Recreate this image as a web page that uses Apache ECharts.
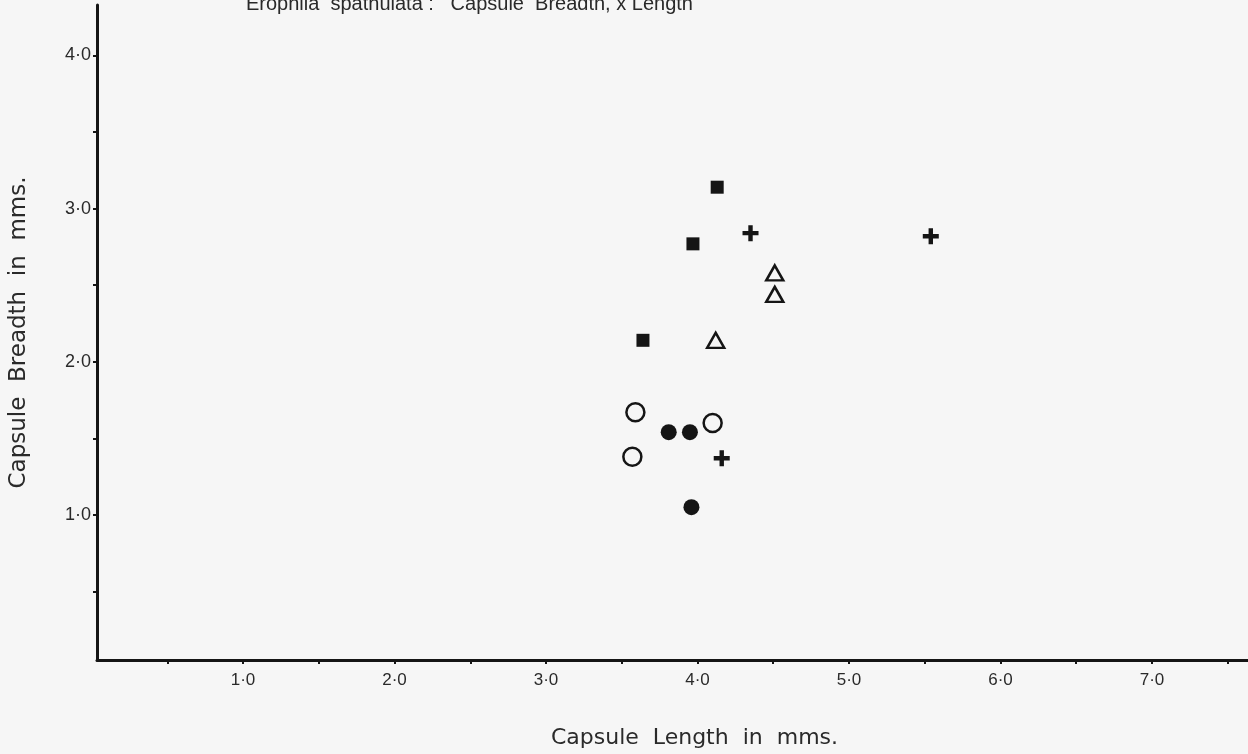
<!DOCTYPE html>
<html>
<head>
<meta charset="utf-8">
<script src="https://cdn.jsdelivr.net/npm/echarts@6/dist/echarts.min.js"></script>
<style>
  html, body { margin: 0; padding: 0; background: #f6f6f6; }
  #chart { width: 1248px; height: 754px; }
</style>
</head>
<body>
<div id="chart"></div>
<script>
/* global echarts */

// capsule length (mms) / capsule breadth (mms)
const filledSquares = [[4.13, 3.14], [3.97, 2.77], [3.64, 2.14]];
const plusses = [[4.35, 2.84], [5.54, 2.82], [4.16, 1.37]];
const openTriangles = [[4.51, 2.58], [4.51, 2.44], [4.12, 2.14]];
const openCircles = [[3.59, 1.67], [4.10, 1.60], [3.57, 1.38]];
const filledCircles = [[3.81, 1.54], [3.95, 1.54], [3.96, 1.05]];

const xTicks = [0.5, 1, 1.5, 2, 2.5, 3, 3.5, 4, 4.5, 5, 5.5, 6, 6.5, 7, 7.5];
const xLabels = [1, 2, 3, 4, 5, 6, 7];
const yTicks = [0.5, 1, 1.5, 2, 2.5, 3, 3.5, 4];
const yLabels = [1, 2, 3, 4];

const ink = '#151515';
const paper = '#f6f6f6';
const plusPath = 'path://M-1.1,-4H1.1V-1.1H4V1.1H1.1V4H-1.1V1.1H-4V-1.1H-1.1Z';

function fmt(v) {
  return v.toFixed(1).replace('.', '\u00b7');
}

const myChart = echarts.init(document.getElementById('chart'));

const option = {
  backgroundColor: paper,
  animation: false,
  // the heading is cut off by the top edge of the scan
  graphic: [{
    type: 'text',
    x: 246,
    y: 14,
    style: {
      text: 'Erophila  spathulata :   Capsule  Breadth, x Length',
      font: '20px "Liberation Sans"',
      fill: '#2a2a2a',
      verticalAlign: 'bottom',
    },
  }],
  grid: {
    left: 97,
    right: 0,
    top: 5,
    bottom: 94,
    outerBoundsMode: 'none',
  },
  xAxis: {
    type: 'value',
    min: 0.036,
    max: 7.634,
    name: 'Capsule  Length  in  mms.',
    nameLocation: 'middle',
    nameGap: 67,
    nameTextStyle: {
      fontFamily: 'DejaVu Sans',
      fontSize: 22,
      color: '#2a2a2a',
      padding: [0, 0, 0, 44],
    },
    splitLine: { show: false },
    axisLine: { lineStyle: { color: ink, width: 3 } },
    axisTick: {
      customValues: xTicks,
      length: 4,
      lineStyle: { color: ink, width: 2 },
    },
    axisLabel: {
      customValues: xLabels,
      formatter: fmt,
      margin: 12,
      fontFamily: 'Liberation Sans',
      fontSize: 17,
      color: '#2a2a2a',
    },
  },
  yAxis: {
    type: 'value',
    min: 0.052,
    max: 4.33,
    name: 'Capsule  Breadth  in  mms.',
    nameLocation: 'middle',
    nameGap: 66,
    nameTextStyle: {
      fontFamily: 'DejaVu Sans',
      fontSize: 23,
      color: '#2a2a2a',
    },
    splitLine: { show: false },
    axisLine: { lineStyle: { color: ink, width: 3 } },
    axisTick: {
      customValues: yTicks,
      length: 4,
      lineStyle: { color: ink, width: 2 },
    },
    axisLabel: {
      customValues: yLabels,
      formatter: fmt,
      margin: 6,
      fontFamily: 'Liberation Sans',
      fontSize: 18,
      color: '#2a2a2a',
    },
  },
  series: [
    {
      type: 'scatter',
      data: filledSquares,
      symbol: 'rect',
      symbolSize: 13,
      itemStyle: { color: ink, opacity: 1 },
    },
    {
      type: 'scatter',
      data: plusses,
      symbol: plusPath,
      symbolSize: 16,
      itemStyle: { color: ink, opacity: 1 },
    },
    {
      type: 'scatter',
      data: openTriangles,
      symbol: 'triangle',
      symbolSize: [17, 15],
      itemStyle: { color: paper, borderColor: ink, borderWidth: 2.5, opacity: 1 },
    },
    {
      type: 'scatter',
      data: openCircles,
      symbol: 'circle',
      symbolSize: 18,
      itemStyle: { color: paper, borderColor: ink, borderWidth: 2.5, opacity: 1 },
    },
    {
      type: 'scatter',
      data: filledCircles,
      symbol: 'circle',
      symbolSize: 16,
      itemStyle: { color: ink, opacity: 1 },
    },
  ],
};

myChart.setOption(option, true);
</script>
</body>
</html>
